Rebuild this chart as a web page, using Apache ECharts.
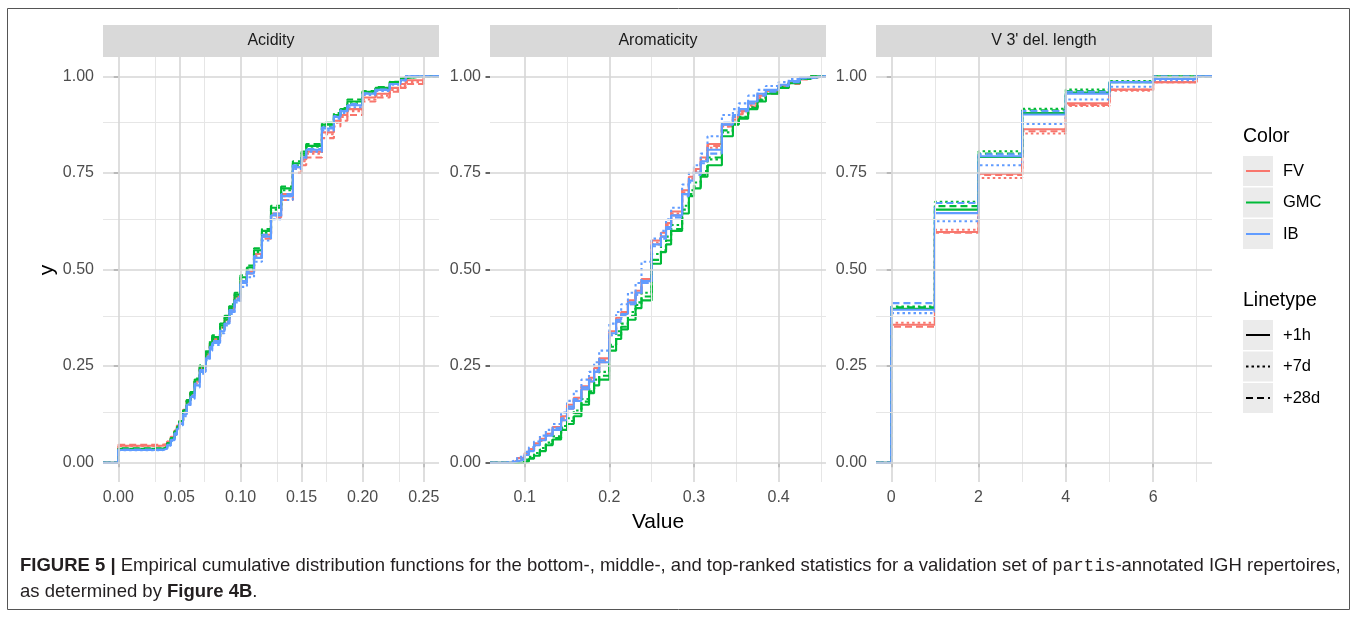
<!DOCTYPE html>
<html><head><meta charset="utf-8">
<script src="https://cdn.jsdelivr.net/npm/echarts@6/dist/echarts.min.js"></script>
<style>html,body{margin:0;padding:0;background:#fff}#c{width:1357px;height:617px}</style>
</head><body><div id="c"></div>
<script>
// ---------------- DATA ----------------
const panels = ['Acidity', 'Aromaticity', "V 3' del. length"];
const colorNames = ['FV', 'GMC', 'IB'];
const linetypeNames = ['+1h', '+7d', '+28d'];

// Acidity: jump locations (x) and ECDF heights per group
const acidX = [0, 0.036, 0.04, 0.043, 0.046, 0.048, 0.05, 0.053, 0.056, 0.059, 0.0625, 0.0667, 0.0714, 0.075, 0.0769, 0.0833, 0.087, 0.0909, 0.0952, 0.1, 0.1053, 0.1111, 0.1176, 0.125, 0.1333, 0.1429, 0.15, 0.1538, 0.1667, 0.1765, 0.1818, 0.1875, 0.2, 0.2105, 0.2222, 0.2308, 0.2353, 0.25];
const acidFV1h  = [0.044,0.047,0.055,0.066,0.082,0.095,0.108,0.135,0.16,0.18,0.21,0.245,0.28,0.305,0.32,0.35,0.37,0.40,0.43,0.47,0.495,0.54,0.59,0.645,0.695,0.765,0.785,0.805,0.855,0.885,0.9,0.915,0.945,0.955,0.97,0.98,0.99,1];
const acidFV7d  = [0.043,0.046,0.054,0.065,0.08,0.093,0.105,0.13,0.155,0.175,0.205,0.24,0.275,0.3,0.315,0.345,0.365,0.395,0.425,0.465,0.49,0.535,0.585,0.64,0.69,0.76,0.78,0.80,0.85,0.88,0.895,0.91,0.94,0.95,0.965,0.975,0.985,1];
const acidFV28d = [0.046,0.048,0.056,0.067,0.083,0.096,0.11,0.137,0.162,0.182,0.212,0.248,0.283,0.31,0.325,0.345,0.365,0.395,0.425,0.465,0.49,0.53,0.58,0.635,0.68,0.75,0.77,0.79,0.84,0.87,0.885,0.9,0.935,0.945,0.96,0.97,0.98,1];
const acidGMC1h  = [0.036,0.04,0.05,0.063,0.08,0.093,0.108,0.135,0.16,0.18,0.215,0.25,0.285,0.31,0.325,0.355,0.375,0.405,0.435,0.48,0.505,0.55,0.6,0.66,0.71,0.775,0.8,0.82,0.875,0.9,0.915,0.935,0.96,0.97,0.985,0.995,1,1];
const acidGMC7d  = [0.035,0.039,0.049,0.062,0.079,0.092,0.106,0.132,0.158,0.178,0.21,0.245,0.28,0.305,0.32,0.35,0.37,0.40,0.43,0.475,0.50,0.545,0.595,0.655,0.705,0.77,0.795,0.818,0.87,0.9,0.912,0.93,0.958,0.968,0.982,0.993,1,1];
const acidGMC28d = [0.037,0.041,0.051,0.064,0.081,0.095,0.11,0.136,0.162,0.183,0.218,0.252,0.288,0.315,0.33,0.36,0.38,0.41,0.44,0.485,0.51,0.555,0.605,0.665,0.715,0.78,0.805,0.825,0.88,0.905,0.918,0.94,0.962,0.972,0.986,0.995,1,1];
const acidIB1h  = [0.033,0.036,0.045,0.058,0.075,0.088,0.10,0.125,0.15,0.17,0.20,0.235,0.27,0.295,0.31,0.34,0.36,0.39,0.42,0.465,0.49,0.53,0.585,0.64,0.69,0.765,0.79,0.81,0.865,0.895,0.91,0.925,0.955,0.965,0.98,0.99,1,1];
const acidIB7d  = [0.032,0.035,0.044,0.056,0.072,0.085,0.097,0.12,0.145,0.165,0.195,0.23,0.265,0.29,0.305,0.335,0.355,0.385,0.415,0.455,0.48,0.52,0.575,0.63,0.68,0.76,0.785,0.805,0.86,0.89,0.905,0.92,0.952,0.962,0.978,0.99,1,1];
const acidIB28d = [0.034,0.037,0.046,0.059,0.076,0.09,0.102,0.128,0.152,0.173,0.205,0.24,0.275,0.3,0.315,0.345,0.365,0.395,0.425,0.47,0.495,0.535,0.59,0.645,0.695,0.77,0.792,0.812,0.868,0.897,0.912,0.928,0.956,0.966,0.98,0.99,1,1];

// Aromaticity
const aromX = [0.077,0.085,0.091,0.1,0.105,0.111,0.118,0.125,0.133,0.143,0.15,0.158,0.167,0.176,0.182,0.188,0.2,0.208,0.214,0.222,0.231,0.238,0.25,0.261,0.267,0.273,0.286,0.294,0.3,0.308,0.316,0.333,0.346,0.353,0.364,0.375,0.385,0.4,0.412,0.425,0.438];
const aromFV1h  = [0.0,0.005,0.012,0.025,0.035,0.05,0.062,0.075,0.092,0.12,0.15,0.168,0.198,0.22,0.245,0.27,0.34,0.375,0.39,0.42,0.445,0.475,0.575,0.595,0.62,0.65,0.705,0.74,0.76,0.79,0.825,0.875,0.895,0.91,0.93,0.95,0.962,0.975,0.985,0.995,1];
const aromFV7d  = [0.0,0.004,0.01,0.022,0.032,0.047,0.06,0.072,0.088,0.115,0.145,0.165,0.195,0.215,0.24,0.265,0.335,0.37,0.385,0.415,0.44,0.47,0.57,0.59,0.615,0.645,0.7,0.735,0.755,0.785,0.815,0.87,0.89,0.905,0.925,0.945,0.958,0.972,0.983,0.994,1];
const aromFV28d = [0.0,0.003,0.009,0.02,0.03,0.044,0.056,0.07,0.085,0.11,0.14,0.16,0.19,0.21,0.235,0.26,0.33,0.365,0.38,0.41,0.435,0.465,0.565,0.585,0.61,0.64,0.695,0.73,0.75,0.78,0.82,0.87,0.888,0.902,0.922,0.942,0.955,0.97,0.98,0.992,1];
const aromGMC1h  = [0,0,0,0.003,0.01,0.018,0.03,0.045,0.06,0.085,0.1,0.12,0.15,0.18,0.2,0.215,0.29,0.32,0.345,0.37,0.4,0.42,0.515,0.545,0.565,0.6,0.645,0.69,0.71,0.74,0.77,0.845,0.875,0.89,0.915,0.935,0.955,0.97,0.982,0.993,1];
const aromGMC7d  = [0,0,0.002,0.008,0.015,0.025,0.038,0.052,0.068,0.095,0.115,0.135,0.165,0.19,0.215,0.235,0.305,0.34,0.36,0.39,0.415,0.44,0.54,0.56,0.585,0.615,0.665,0.705,0.725,0.755,0.785,0.855,0.88,0.895,0.92,0.94,0.958,0.972,0.984,0.995,1];
const aromGMC28d = [0,0,0.001,0.006,0.012,0.022,0.034,0.048,0.064,0.09,0.108,0.128,0.158,0.185,0.208,0.225,0.3,0.33,0.352,0.38,0.408,0.43,0.525,0.55,0.575,0.605,0.655,0.695,0.715,0.745,0.79,0.86,0.878,0.893,0.918,0.938,0.956,0.971,0.983,0.994,1];
const aromIB1h  = [0.0,0.003,0.008,0.02,0.03,0.045,0.058,0.07,0.085,0.11,0.14,0.16,0.19,0.21,0.235,0.26,0.335,0.37,0.385,0.415,0.44,0.47,0.565,0.585,0.61,0.64,0.695,0.73,0.75,0.78,0.81,0.875,0.9,0.915,0.935,0.955,0.965,0.978,0.988,0.997,1];
const aromIB7d  = [0.003,0.008,0.015,0.028,0.04,0.055,0.07,0.085,0.1,0.13,0.16,0.185,0.215,0.235,0.26,0.29,0.36,0.39,0.41,0.44,0.465,0.52,0.58,0.6,0.63,0.66,0.72,0.75,0.77,0.80,0.845,0.9,0.915,0.93,0.95,0.965,0.975,0.985,0.993,0.998,1];
const aromIB28d = [0.0,0.004,0.01,0.022,0.033,0.048,0.06,0.075,0.09,0.115,0.145,0.165,0.195,0.215,0.24,0.265,0.33,0.365,0.38,0.41,0.435,0.465,0.56,0.58,0.605,0.635,0.69,0.725,0.745,0.775,0.80,0.88,0.895,0.91,0.93,0.95,0.96,0.975,0.985,0.995,1];

// V 3' deletion length
const delX = [0, 1, 2, 3, 4, 5, 6, 7];
const delFV1h  = [0.357,0.597,0.748,0.863,0.930,0.966,0.985,1];
const delFV7d  = [0.362,0.603,0.737,0.852,0.923,0.963,0.985,1];
const delFV28d = [0.352,0.595,0.745,0.858,0.926,0.965,0.985,1];
const delGMC1h  = [0.398,0.655,0.791,0.905,0.958,0.985,1,1];
const delGMC7d  = [0.404,0.675,0.806,0.916,0.966,0.988,1,1];
const delGMC28d = [0.402,0.664,0.800,0.912,0.962,0.986,1,1];
const delIB1h  = [0.396,0.646,0.793,0.901,0.955,0.985,0.993,1];
const delIB7d  = [0.387,0.625,0.770,0.877,0.940,0.973,0.99,1];
const delIB28d = [0.413,0.672,0.798,0.910,0.960,0.985,1,1];

// Axis ranges and ticks
const xRanges = [[-0.0125, 0.2625], [0.059, 0.456], [-0.35, 7.35]];
const xMajor = [[0, 0.05, 0.1, 0.15, 0.2, 0.25], [0.1, 0.2, 0.3, 0.4], [0, 2, 4, 6]];
const xMinor = [[0.025, 0.075, 0.125, 0.175, 0.225], [0.15, 0.25, 0.35, 0.45], [1, 3, 5, 7]];
const xDigits = [2, 1, 0];
const yMajor = [0, 0.25, 0.5, 0.75, 1];
const yMinor = [0.125, 0.375, 0.625, 0.875];

// ---------------- CHART ----------------
const FONT = '"Liberation Sans", Arial, sans-serif';
const colors = {FV: '#F8766D', GMC: '#00BA38', IB: '#619CFF'};
const dashes = {'+1h': 'solid', '+7d': [2.5, 3], '+28d': [7, 4]};
const G = {tops: 57, h: 425, w: 336, lefts: [103, 490, 876]};

const groups = [
  [['FV', '+1h', acidFV1h], ['FV', '+7d', acidFV7d], ['FV', '+28d', acidFV28d],
   ['GMC', '+1h', acidGMC1h], ['GMC', '+7d', acidGMC7d], ['GMC', '+28d', acidGMC28d],
   ['IB', '+1h', acidIB1h], ['IB', '+7d', acidIB7d], ['IB', '+28d', acidIB28d]],
  [['FV', '+1h', aromFV1h], ['FV', '+7d', aromFV7d], ['FV', '+28d', aromFV28d],
   ['GMC', '+1h', aromGMC1h], ['GMC', '+7d', aromGMC7d], ['GMC', '+28d', aromGMC28d],
   ['IB', '+1h', aromIB1h], ['IB', '+7d', aromIB7d], ['IB', '+28d', aromIB28d]],
  [['FV', '+1h', delFV1h], ['FV', '+7d', delFV7d], ['FV', '+28d', delFV28d],
   ['GMC', '+1h', delGMC1h], ['GMC', '+7d', delGMC7d], ['GMC', '+28d', delGMC28d],
   ['IB', '+1h', delIB1h], ['IB', '+7d', delIB7d], ['IB', '+28d', delIB28d]]
];
const xsByPanel = [acidX, aromX, delX];

function ecdf(xs, ys, lo, hi) {
  const d = [[lo, 0]];
  xs.forEach((x, i) => d.push([x, ys[i]]));
  d.push([hi, 1]);
  return d;
}

const grids = [], xAxes = [], yAxes = [], series = [];
for (let p = 0; p < 3; p++) {
  grids.push({left: G.lefts[p], top: G.tops, width: G.w, height: G.h, containLabel: false});
  xAxes.push({
    gridIndex: p, type: 'value', min: xRanges[p][0], max: xRanges[p][1],
    axisLine: {show: false},
    axisTick: {show: true, length: 4.5, customValues: xMajor[p], lineStyle: {color: '#333', width: 1.5}},
    axisLabel: {show: true, customValues: xMajor[p], margin: 8, color: '#4d4d4d', fontSize: 16, fontFamily: FONT,
      formatter: v => Number(v).toFixed(xDigits[p])},
    splitLine: {show: false}
  });
  yAxes.push({
    gridIndex: p, type: 'value', min: -0.05, max: 1.05,
    axisLine: {show: false},
    axisTick: {show: true, length: 4.5, customValues: yMajor, lineStyle: {color: '#333', width: 1.5}},
    axisLabel: {show: true, customValues: yMajor, margin: 9, color: '#4d4d4d', fontSize: 16, fontFamily: FONT,
      formatter: v => Number(v).toFixed(2)},
    splitLine: {show: false}
  });
  const major = {color: '#d6d6d6', width: 1.6, type: 'solid'};
  const minor = {color: '#e6e6e6', width: 1, type: 'solid'};
  const ml = [];
  yMinor.forEach(v => ml.push({yAxis: v, lineStyle: minor}));
  xMinor[p].forEach(v => ml.push({xAxis: v, lineStyle: minor}));
  yMajor.forEach(v => ml.push({yAxis: v, lineStyle: major}));
  xMajor[p].forEach(v => ml.push({xAxis: v, lineStyle: major}));
  series.push({
    type: 'line', xAxisIndex: p, yAxisIndex: p, data: [], silent: true, z: 1,
    markLine: {symbol: ['none', 'none'], silent: true, label: {show: false}, emphasis: {disabled: true}, data: ml}
  });
  groups[p].forEach(([c, lt, ys]) => {
    series.push({
      name: c + ' ' + lt, type: 'line', xAxisIndex: p, yAxisIndex: p, z: 3,
      step: 'end', showSymbol: false, symbol: 'none', silent: true,
      data: ecdf(xsByPanel[p], ys, xRanges[p][0], xRanges[p][1]),
      lineStyle: {color: colors[c], width: 2.1, type: dashes[lt], cap: 'butt'},
      emphasis: {disabled: true}
    });
  });
}

// Graphic: strips, axis titles, legends, caption, frame
const graphic = [];
graphic.push({type: 'rect', shape: {x: 7.5, y: 8.5, width: 1342, height: 601}, style: {fill: 'none', stroke: '#555', lineWidth: 1}, silent: true});
for (let p = 0; p < 3; p++) {
  graphic.push({type: 'rect', shape: {x: G.lefts[p], y: 25, width: G.w, height: 32}, style: {fill: '#d9d9d9'}, silent: true});
  graphic.push({type: 'text', x: G.lefts[p] + G.w / 2, y: 41, style: {text: panels[p], fill: '#1a1a1a', font: '16px ' + FONT, align: 'center', verticalAlign: 'middle'}, silent: true});
}
graphic.push({type: 'text', x: 47, y: 270, rotation: Math.PI / 2, style: {text: 'y', fill: '#000', font: '21px ' + FONT, align: 'center', verticalAlign: 'middle'}});
graphic.push({type: 'text', x: 658, y: 522, style: {text: 'Value', fill: '#000', font: '21px ' + FONT, align: 'center', verticalAlign: 'middle'}});

// legends
const LX = 1243;
graphic.push({type: 'text', x: LX, y: 137, style: {text: 'Color', fill: '#000', font: '19.5px ' + FONT, verticalAlign: 'middle'}});
colorNames.forEach((n, i) => {
  const cy = 171 + i * 31.5;
  graphic.push({type: 'rect', shape: {x: LX, y: cy - 15, width: 30, height: 30}, style: {fill: '#ebebeb'}});
  graphic.push({type: 'line', shape: {x1: LX + 3, y1: cy, x2: LX + 27, y2: cy}, style: {stroke: colors[n], lineWidth: 2}});
  graphic.push({type: 'text', x: LX + 40, y: cy, style: {text: n, fill: '#000', font: '16.5px ' + FONT, verticalAlign: 'middle'}});
});
graphic.push({type: 'text', x: LX, y: 301, style: {text: 'Linetype', fill: '#000', font: '19.5px ' + FONT, verticalAlign: 'middle'}});
linetypeNames.forEach((n, i) => {
  const cy = 335 + i * 31.5;
  graphic.push({type: 'rect', shape: {x: LX, y: cy - 15, width: 30, height: 30}, style: {fill: '#ebebeb'}});
  graphic.push({type: 'line', shape: {x1: LX + 3, y1: cy, x2: LX + 27, y2: cy}, style: {stroke: '#000', lineWidth: 2, lineDash: dashes[n] === 'solid' ? null : dashes[n]}});
  graphic.push({type: 'text', x: LX + 40, y: cy, style: {text: n, fill: '#000', font: '16.5px ' + FONT, verticalAlign: 'middle'}});
});

// caption
const CAP = '"Liberation Sans", Arial, sans-serif';
graphic.push({type: 'text', x: 20, y: 566, style: {
  text: '{b|FIGURE 5 |} Empirical cumulative distribution functions for the bottom-, middle-, and top-ranked statistics for a validation set of {m|partis}-annotated IGH repertoires,',
  fill: '#231f20', font: '18.5px ' + CAP, verticalAlign: 'middle',
  rich: {b: {fontWeight: 'bold', fontSize: 18.5, fontFamily: CAP, fill: '#231f20'}, m: {fontFamily: '"Liberation Mono", "DejaVu Sans Mono", monospace', fontSize: 17.5, fill: '#231f20'}}
}});
graphic.push({type: 'text', x: 20, y: 592, style: {
  text: 'as determined by {b|Figure 4B}.',
  fill: '#231f20', font: '18.5px ' + CAP, verticalAlign: 'middle',
  rich: {b: {fontWeight: 'bold', fontSize: 18.5, fontFamily: CAP, fill: '#231f20'}}
}});

const chart = echarts.init(document.getElementById('c'), null, {renderer: 'canvas'});
chart.setOption({
  animation: false,
  backgroundColor: '#fff',
  grid: grids, xAxis: xAxes, yAxis: yAxes, series: series, graphic: graphic,
  tooltip: {show: false}
});
</script></body></html>
